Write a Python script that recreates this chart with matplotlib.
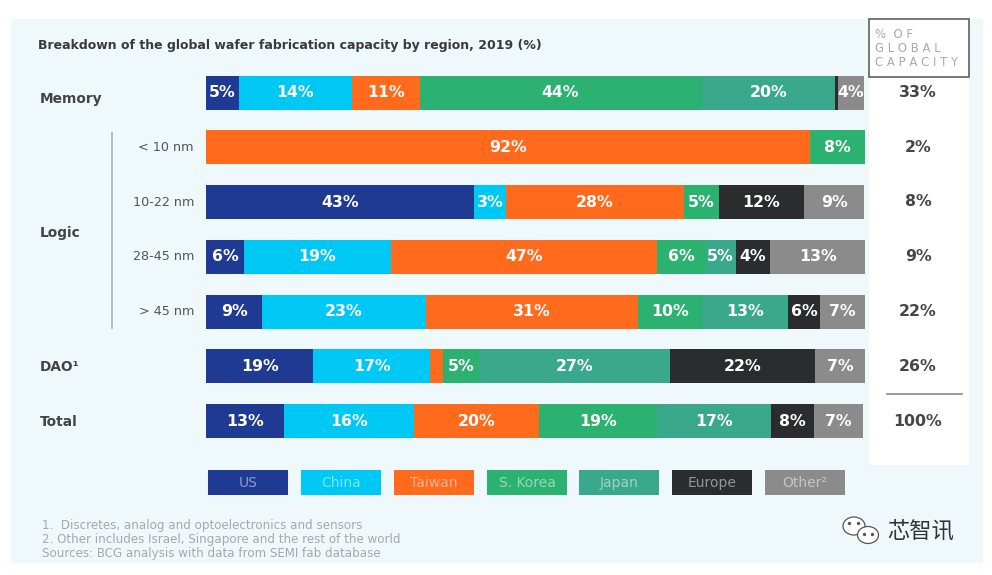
import matplotlib
matplotlib.use("Agg")
import matplotlib.pyplot as plt
from matplotlib.patches import Rectangle, Ellipse
import numpy as np

# ---------------- data ----------------
regions = ["US", "China", "Taiwan", "S. Korea", "Japan", "Europe", "Other²"]
colors = ["#1f3a93", "#00c8f5", "#ff6a1c", "#2bb271", "#3aa98b", "#2a2c2e", "#8b8b8c"]

rows = ["Memory", "< 10 nm", "10-22 nm", "28-45 nm", "> 45 nm", "DAO¹", "Total"]

# segment widths as drawn in the picture (% of bar length)
memory_w = [5.0, 17.1, 10.3, 42.8, 20.2, 0.5, 3.9]
lt10_w = [0, 0, 91.6, 8.4, 0, 0, 0]
n10_22_w = [40.7, 4.8, 27.0, 5.3, 0, 12.9, 9.2]
n28_45_w = [5.8, 22.2, 40.5, 7.3, 4.6, 5.2, 14.5]
gt45_w = [8.5, 24.9, 32.1, 9.8, 13.0, 4.9, 6.8]
dao_w = [16.3, 17.7, 2.0, 5.5, 28.9, 22.0, 7.6]
total_w = [11.9, 19.6, 19.0, 17.9, 17.3, 6.5, 7.5]

# printed labels
memory_l = ["5%", "14%", "11%", "44%", "20%", "", "4%"]
lt10_l = ["", "", "92%", "8%", "", "", ""]
n10_22_l = ["43%", "3%", "28%", "5%", "", "12%", "9%"]
n28_45_l = ["6%", "19%", "47%", "6%", "5%", "4%", "13%"]
gt45_l = ["9%", "23%", "31%", "10%", "13%", "6%", "7%"]
dao_l = ["19%", "17%", "", "5%", "27%", "22%", "7%"]
total_l = ["13%", "16%", "20%", "19%", "17%", "8%", "7%"]

global_share = ["33%", "2%", "8%", "9%", "22%", "26%", "100%"]

widths = [memory_w, lt10_w, n10_22_w, n28_45_w, gt45_w, dao_w, total_w]
labels = [memory_l, lt10_l, n10_22_l, n28_45_l, gt45_l, dao_l, total_l]

title = "Breakdown of the global wafer fabrication capacity by region, 2019 (%)"
footnotes = ["1.  Discretes, analog and optoelectronics and sensors",
             "2. Other includes Israel, Singapore and the rest of the world",
             "Sources: BCG analysis with data from SEMI fab database"]

# ---------------- figure ----------------
W, H = 992, 575
fig = plt.figure(figsize=(W / 100, H / 100), dpi=100)
fig.patch.set_facecolor("white")

# overlay axes in pixel coordinates (y downwards)
bg = fig.add_axes([0, 0, 1, 1])
bg.set_xlim(0, W)
bg.set_ylim(H, 0)
bg.axis("off")
bg.add_patch(Rectangle((11, 19), 972, 544, facecolor="#eff9fc", edgecolor="none", zorder=0))
bg.add_patch(Rectangle((869, 19), 100, 446, facecolor="white", edgecolor="none", zorder=1))
bg.add_patch(Rectangle((869, 19), 100, 58, facecolor="none", edgecolor="#6b6b6b", lw=1.3, zorder=2))

for k, t in enumerate(["%  O F", "G L O B A L", "C A P A C I T Y"]):
    bg.text(875, 34 + k * 14, t, fontsize=8.4, color="#a9a9a9", va="center", ha="left")

bg.text(38, 45, title, fontsize=9.0, fontweight="bold", color="#3a3a3a", va="center", ha="left")

# bar axes
n = len(rows)
y_first, y_last = 92.5, 421.0
step = (y_last - y_first) / (n - 1)
ax_top = y_first - step / 2
ax_bot = y_last + step / 2
x0, x1 = 206, 865
ax = fig.add_axes([x0 / W, 1 - ax_bot / H, (x1 - x0) / W, (ax_bot - ax_top) / H])
ax.set_xlim(0, 100)
ax.set_ylim(n - 0.5, -0.5)
ax.axis("off")
ax.patch.set_alpha(0)

bar_h = 34 / step
ypos = np.arange(n)
for i in range(n):
    left = 0.0
    for j, (w, lab) in enumerate(zip(widths[i], labels[i])):
        if w > 0:
            ax.barh(ypos[i], w, left=left, height=bar_h, color=colors[j], edgecolor="none")
            if lab:
                ax.text(left + w / 2, ypos[i], lab, color="white", fontsize=11.3,
                        fontweight="bold", ha="center", va="center")
        left += w

# row labels
def ypix(i):
    return y_first + i * step

main_labels = {0: "Memory", 5: "DAO¹", 6: "Total"}
for i, t in main_labels.items():
    bg.text(40, ypix(i) + 7 if i == 0 else ypix(i) + 1, t, fontsize=9.9, fontweight="bold",
            color="#444444", va="center", ha="left")
bg.text(40, 233, "Logic", fontsize=9.9, fontweight="bold", color="#444444", va="center", ha="left")
for i in range(1, 5):
    bg.text(194, ypix(i), rows[i], fontsize=9.2, color="#555555", va="center", ha="right")
bg.plot([112, 112], [133, 328], color="#b5b5b5", lw=1.3)

# right column
for i, s in enumerate(global_share):
    bg.text(918, ypix(i), s, fontsize=11.3, fontweight="bold", color="#464646",
            va="center", ha="center")
bg.plot([887, 962], [394, 394], color="#8a8a8a", lw=1.2)

# legend
leg_x = [208, 301, 394, 487, 579, 672, 765]
for j, r in enumerate(regions):
    bg.add_patch(Rectangle((leg_x[j], 470), 80, 25, facecolor=colors[j], edgecolor="none"))
    bg.text(leg_x[j] + 40, 483, r, fontsize=10, color="white", alpha=0.5,
            ha="center", va="center", family=["Liberation Sans Narrow", "DejaVu Sans"])

# footnotes
for k, t in enumerate(footnotes):
    bg.text(42, 526 + k * 13.5, t, fontsize=8.6, color="#a8a8a8", ha="left", va="center",
            family=["Liberation Sans Narrow", "DejaVu Sans"])

# watermark
bg.add_patch(Ellipse((854, 526), 22, 18, facecolor="white", edgecolor="#555555", lw=0.9, zorder=5))
bg.add_patch(Ellipse((868, 535), 21, 17, facecolor="white", edgecolor="#555555", lw=0.9, zorder=6))
for cx, cy in [(849, 523), (858, 523), (864, 534), (872, 534)]:
    bg.plot(cx, cy, marker="o", ms=1.4, color="#555555", zorder=7)
bg.text(887, 532, "芯智讯", fontsize=16, color="#333333", ha="left", va="center",
        family=["Noto Sans CJK SC", "DejaVu Sans"])

fig.savefig("out.png", dpi=100, facecolor="white")
